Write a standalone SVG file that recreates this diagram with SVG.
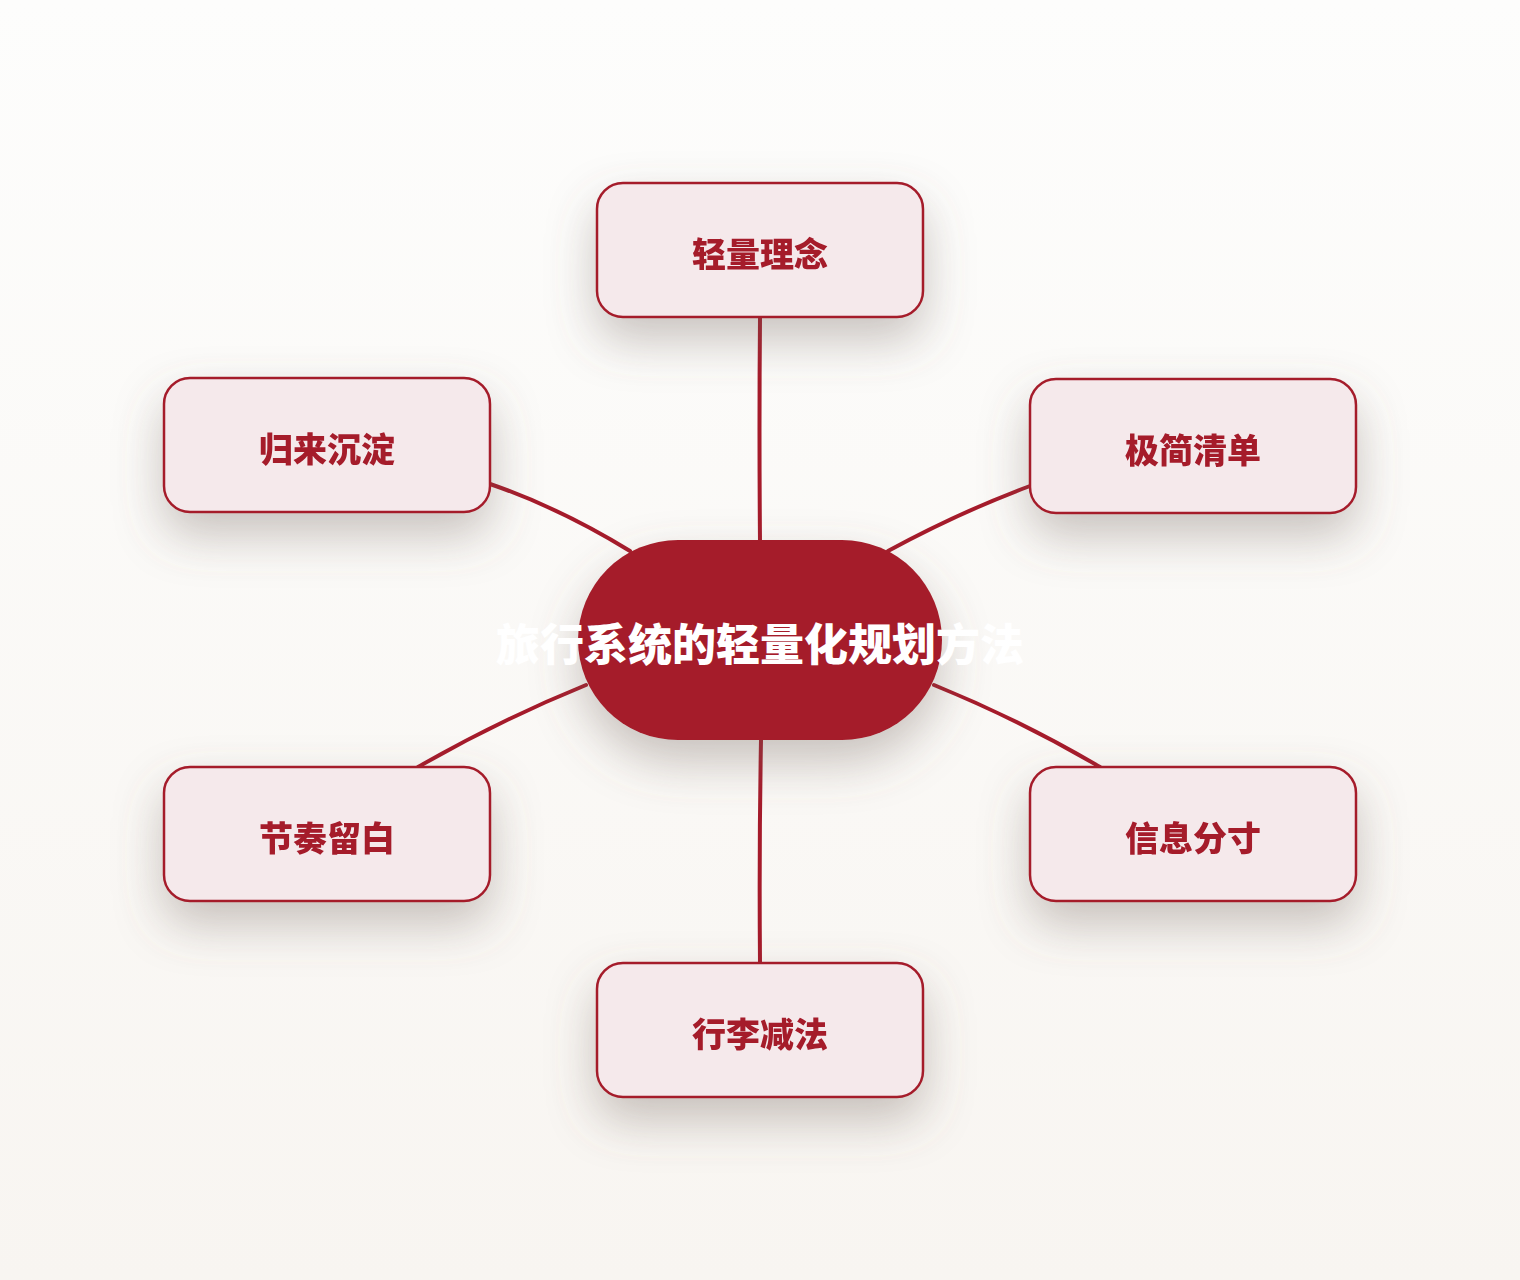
<svg xmlns="http://www.w3.org/2000/svg" width="1520" height="1280" viewBox="0 0 1520 1280">
<defs>
<linearGradient id="bg" x1="0" y1="0" x2="0" y2="1">
<stop offset="0" stop-color="#fdfdfc"/>
<stop offset="1" stop-color="#f8f5f1"/>
</linearGradient>
<filter id="sh" x="-40%" y="-60%" width="180%" height="260%">
<feGaussianBlur in="SourceAlpha" stdDeviation="24"/>
<feOffset dy="22" result="b"/>
<feFlood flood-color="#6e5f58" flood-opacity="0.36"/>
<feComposite in2="b" operator="in"/>
<feMerge><feMergeNode/><feMergeNode in="SourceGraphic"/></feMerge>
</filter>
<style>
.box{fill:#f5e9eb;stroke:#a51b2b;stroke-width:2.5}
.lbl{font-family:"Noto Sans CJK SC","Noto Sans",sans-serif;font-weight:900;font-size:34px;fill:#a51b2b;text-anchor:middle;dominant-baseline:central}
.edge{fill:none;stroke:#a51b2b;stroke-width:4;stroke-linecap:round}
.hub{fill:#a51b2b}
.hubt{font-family:"Noto Sans CJK SC","Noto Sans",sans-serif;font-weight:900;font-size:44px;fill:#ffffff;text-anchor:middle;dominant-baseline:central}
</style>
</defs>
<rect width="1520" height="1280" fill="url(#bg)"/>
<g id="connectors">
<path class="edge" d="M760 318 Q759 430 760 542"/>
<path class="edge" d="M490 484 Q560 508 630 551"/>
<path class="edge" d="M1030 486 Q960 512 888 551"/>
<path class="edge" d="M586 685 Q500 720 418 767"/>
<path class="edge" d="M934 685 Q1020 720 1100 767"/>
<path class="edge" d="M761 740 Q759 850 760 963"/>
</g>
<g id="n-top" filter="url(#sh)">
<rect class="box" x="597" y="183" width="326" height="134" rx="26"/>
<text class="lbl" x="760" y="252">轻量理念</text>
</g>
<g id="n-lt" filter="url(#sh)">
<rect class="box" x="164" y="378" width="326" height="134" rx="26"/>
<text class="lbl" x="327" y="447">归来沉淀</text>
</g>
<g id="n-rt" filter="url(#sh)">
<rect class="box" x="1030" y="379" width="326" height="134" rx="26"/>
<text class="lbl" x="1193" y="448">极简清单</text>
</g>
<g id="n-lb" filter="url(#sh)">
<rect class="box" x="164" y="767" width="326" height="134" rx="26"/>
<text class="lbl" x="327" y="836">节奏留白</text>
</g>
<g id="n-rb" filter="url(#sh)">
<rect class="box" x="1030" y="767" width="326" height="134" rx="26"/>
<text class="lbl" x="1193" y="836">信息分寸</text>
</g>
<g id="n-bot" filter="url(#sh)">
<rect class="box" x="597" y="963" width="326" height="134" rx="26"/>
<text class="lbl" x="760" y="1032">行李减法</text>
</g>
<g id="n-center">
<rect class="hub" x="578" y="540" width="364" height="200" rx="100" filter="url(#sh)"/>
<text class="hubt" x="760" y="642">旅行系统的轻量化规划方法</text>
</g>
</svg>
